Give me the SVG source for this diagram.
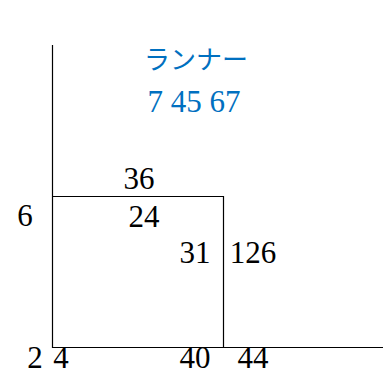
<svg xmlns="http://www.w3.org/2000/svg" width="383" height="381" viewBox="0 0 383 381">
<style>
.ln{stroke:#000;stroke-width:1.2;fill:none}
.t{font-family:"Liberation Serif","Noto Sans CJK JP",serif;font-size:31px;fill:#000}
.b{font-family:"Liberation Serif","Noto Sans CJK JP",serif;font-size:31px;fill:#0070C0}
.j{font-family:"Noto Sans CJK JP",sans-serif;font-size:26px;fill:#0070C0}
</style>
<rect width="383" height="381" fill="#fff"/>
<g id="connectors">
<path class="ln" d="M52.5 45V347.5H383"/>
<path class="ln" d="M52.5 196.5H223.5V347.5"/>
</g>
<g id="runner">
<text class="j" x="196" y="69" text-anchor="middle">ランナー</text>
<text class="b" x="194" y="112" text-anchor="middle">7 45 67</text>
</g>
<g id="labels">
<text class="t" x="139" y="189" text-anchor="middle">36</text>
<text class="t" x="144" y="227" text-anchor="middle">24</text>
<text class="t" x="195" y="263" text-anchor="middle">31</text>
<text class="t" x="253" y="263" text-anchor="middle">126</text>
<text class="t" x="25" y="226" text-anchor="middle">6</text>
<text class="t" x="35" y="368" text-anchor="middle">2</text>
<text class="t" x="61" y="368" text-anchor="middle">4</text>
<text class="t" x="195" y="368" text-anchor="middle">40</text>
<text class="t" x="253" y="368" text-anchor="middle">44</text>
</g>
</svg>
